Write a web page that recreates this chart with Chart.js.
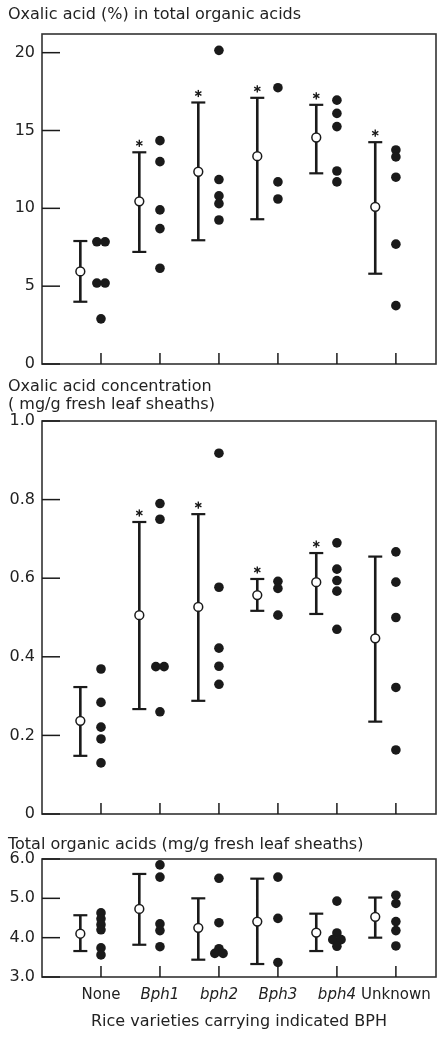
<!DOCTYPE html>
<html>
<head>
<meta charset="utf-8">
<script src="https://cdn.jsdelivr.net/npm/chart.js@4.4.1/dist/chart.umd.min.js"></script>
<style>
  body { margin: 0; background: #fff; }
  #page { position: relative; width: 437px; height: 1038px; overflow: hidden; font-family: 'DejaVu Sans', sans-serif; color: #222; }
  .box { position: absolute; left: 0; width: 437px; }
  .ttl { position: absolute; left: 8px; font-size: 16px; line-height: 18px; white-space: nowrap; z-index: 2; }
</style>
</head>
<body>
<div id="page">
  <div class="box" style="top:0;height:375px"><canvas id="c1"></canvas></div>
  <div class="box" style="top:375px;height:450px"><canvas id="c2"></canvas></div>
  <div class="box" style="top:825px;height:213px"><canvas id="c3"></canvas></div>
  <div class="ttl" style="top:5px">Oxalic acid (%) in total organic acids</div>
  <div class="ttl" style="top:377px">Oxalic acid concentration<br>( mg/g fresh leaf sheaths)</div>
  <div class="ttl" style="top:835px">Total organic acids (mg/g fresh leaf sheaths)</div>
</div>
<script>
// categories
const categories = ['None', 'Bph1', 'bph2', 'Bph3', 'bph4', 'Unknown'];
const italicCats = [false, true, true, true, true, false];
const xTitle = 'Rice varieties carrying indicated BPH';

// oxalic acid (%) in total organic acids
const oxPctMean = [5.95, 10.45, 12.35, 13.35, 14.55, 10.1];
const oxPctHigh = [7.9, 13.6, 16.8, 17.1, 16.65, 14.25];
const oxPctLow = [4.0, 7.2, 7.95, 9.3, 12.25, 5.8];
const oxPctSig = [false, true, true, true, true, true];
const oxPctPoints = [
  [7.85, 7.85, 5.2, 5.2, 2.9],
  [14.35, 13.0, 9.9, 8.7, 6.15],
  [20.15, 11.85, 10.8, 10.3, 9.25],
  [17.75, 11.7, 10.6],
  [16.95, 16.1, 15.25, 12.4, 11.7],
  [13.75, 13.3, 12.0, 7.7, 3.75]
];

// oxalic acid concentration (mg/g)
const oxConcMean = [0.237, 0.506, 0.527, 0.557, 0.59, 0.447];
const oxConcHigh = [0.323, 0.743, 0.763, 0.598, 0.664, 0.655];
const oxConcLow = [0.148, 0.267, 0.288, 0.517, 0.509, 0.235];
const oxConcSig = [false, true, true, true, true, false];
const oxConcPoints = [
  [0.369, 0.284, 0.221, 0.191, 0.13],
  [0.79, 0.75, 0.375, 0.375, 0.26],
  [0.918, 0.577, 0.422, 0.376, 0.33],
  [0.592, 0.574, 0.506],
  [0.69, 0.623, 0.594, 0.567, 0.47],
  [0.667, 0.59, 0.5, 0.322, 0.163]
];

// total organic acids (mg/g)
const totalMean = [4.1, 4.73, 4.25, 4.41, 4.13, 4.53];
const totalHigh = [4.57, 5.62, 5.0, 5.5, 4.61, 5.02];
const totalLow = [3.66, 3.82, 3.44, 3.33, 3.66, 4.0];
const totalSig = [false, false, false, false, false, false];
const totalPoints = [
  [4.63, 4.48, 4.33, 4.2, 3.74, 3.56],
  [5.85, 5.54, 4.35, 4.18, 3.77],
  [5.51, 4.38, 3.72, 3.6, 3.6],
  [5.54, 4.49, 3.37],
  [4.93, 4.12, 3.95, 3.95, 3.78],
  [5.08, 4.87, 4.41, 4.18, 3.79]
];

const INK = '#1a1a1a';
const MEAN_SHIFT = 0.35;  // mean +- SD drawn left of the dots
const FAMILY = "'DejaVu Sans', sans-serif";

function buildChart(id, p) {
  const dots = [], means = [], bars = [], caps = [];
  p.points.forEach((vals, i) => {
    const counts = {}, seen = {};
    vals.forEach(v => { counts[v] = (counts[v] || 0) + 1; });
    vals.forEach(v => {
      const k = seen[v] || 0;
      seen[v] = k + 1;
      dots.push({ x: i + 1 + (k - (counts[v] - 1) / 2) * 0.14, y: v });
    });
    const mx = i + 1 - MEAN_SHIFT;
    means.push({ x: mx, y: p.mean[i] });
    bars.push({ x: mx, y: p.low[i] }, { x: mx, y: p.high[i] }, { x: mx, y: null });
    caps.push({ x: mx, y: p.low[i] }, { x: mx, y: p.high[i] });
  });

  // box round the plot and inward tick marks
  const framePlugin = {
    id: 'frame',
    beforeDatasetsDraw(chart) {
      const { ctx, chartArea: a, scales } = chart;
      ctx.save();
      ctx.strokeStyle = '#333';
      ctx.lineWidth = 1.6;
      ctx.strokeRect(a.left, a.top, a.right - a.left, a.bottom - a.top);
      ctx.strokeStyle = INK;
      ctx.lineWidth = 1.5;
      scales.y.ticks.forEach(t => {
        const y = scales.y.getPixelForValue(t.value);
        ctx.beginPath(); ctx.moveTo(a.left, y); ctx.lineTo(a.left + 18, y); ctx.stroke();
      });
      scales.x.ticks.forEach(t => {
        if (t.value < 1) return;
        const x = scales.x.getPixelForValue(t.value);
        ctx.beginPath(); ctx.moveTo(x, a.bottom); ctx.lineTo(x, a.bottom - 11); ctx.stroke();
      });
      ctx.restore();
    }
  };

  const starPlugin = {
    id: 'stars',
    afterDatasetsDraw(chart) {
      const { ctx, scales } = chart;
      ctx.save();
      ctx.strokeStyle = INK;
      ctx.lineWidth = 1.4;
      p.sig.forEach((s, i) => {
        if (!s) return;
        const x = scales.x.getPixelForValue(i + 1 - MEAN_SHIFT);
        const y = scales.y.getPixelForValue(p.high[i]) - 9;
        for (let k = 0; k < 3; k++) {
          const ang = Math.PI / 2 + k * Math.PI / 3;
          ctx.beginPath();
          ctx.moveTo(x - 3.6 * Math.cos(ang), y - 3.6 * Math.sin(ang));
          ctx.lineTo(x + 3.6 * Math.cos(ang), y + 3.6 * Math.sin(ang));
          ctx.stroke();
        }
      });
      ctx.restore();
    }
  };

  new Chart(document.getElementById(id), {
    type: 'scatter',
    data: {
      datasets: [
        {
          label: 'mean',
          data: means,
          order: 0,
          pointRadius: 4.4,
          pointBackgroundColor: '#fff',
          pointBorderColor: INK,
          pointBorderWidth: 1.5,
          clip: false
        },
        {
          label: 'values',
          data: dots,
          order: 1,
          pointRadius: 4.8,
          pointBackgroundColor: INK,
          pointBorderColor: INK,
          pointBorderWidth: 0,
          clip: false
        },
        {
          label: 'sd',
          data: bars,
          order: 2,
          showLine: true,
          spanGaps: false,
          borderColor: INK,
          borderWidth: 2.6,
          pointRadius: 0,
          clip: false
        },
        {
          label: 'caps',
          data: caps,
          order: 3,
          pointStyle: 'line',
          pointRadius: 7,
          pointBorderColor: INK,
          pointBorderWidth: 2.2,
          clip: false
        }
      ]
    },
    options: {
      responsive: true,
      maintainAspectRatio: false,
      animation: false,
      layout: { autoPadding: false, padding: { top: p.padTop, right: 1, left: 0, bottom: 0 } },
      plugins: { legend: { display: false }, tooltip: { enabled: false } },
      scales: {
        x: {
          type: 'linear',
          min: 0,
          max: 6.68,
          afterFit: s => { s.height = p.xHeight; s.paddingLeft = 0; s.paddingRight = 0; },
          border: { display: false },
          grid: { display: true, drawOnChartArea: false, drawTicks: false, color: 'rgba(0,0,0,0)' },
          ticks: {
            stepSize: 1,
            includeBounds: false,
            autoSkip: false,
            maxRotation: 0,
            minRotation: 0,
            padding: 9,
            color: '#222',
            font: c => ({ family: FAMILY, size: 15, style: italicCats[c.index - 1] ? 'italic' : 'normal' }),
            callback: v => (p.labels && v >= 1 && v <= 6) ? categories[v - 1] : ''
          },
          title: {
            display: !!p.labels,
            text: xTitle,
            color: '#222',
            font: { family: FAMILY, size: 16 },
            padding: { top: 0, bottom: 7 }
          }
        },
        y: {
          min: p.yMin,
          max: p.yMax,
          afterFit: s => { s.width = 42; s.paddingTop = 0; s.paddingBottom = 0; },
          border: { display: false },
          grid: { display: true, drawOnChartArea: false, drawTicks: false, color: 'rgba(0,0,0,0)' },
          ticks: {
            stepSize: p.step,
            includeBounds: false,
            padding: 7,
            color: '#222',
            font: { family: FAMILY, size: 16 },
            callback: p.fmt
          }
        }
      }
    },
    plugins: [framePlugin, starPlugin]
  });
}

buildChart('c1', {
  points: oxPctPoints, mean: oxPctMean, low: oxPctLow, high: oxPctHigh, sig: oxPctSig,
  yMin: 0, yMax: 21.2, step: 5, fmt: v => String(v),
  padTop: 34, xHeight: 11, labels: false
});
buildChart('c2', {
  points: oxConcPoints, mean: oxConcMean, low: oxConcLow, high: oxConcHigh, sig: oxConcSig,
  yMin: 0, yMax: 1.0, step: 0.2, fmt: v => v === 0 ? '0' : v.toFixed(1),
  padTop: 46, xHeight: 11, labels: false
});
buildChart('c3', {
  points: totalPoints, mean: totalMean, low: totalLow, high: totalHigh, sig: totalSig,
  yMin: 3, yMax: 6, step: 1, fmt: v => v.toFixed(1),
  padTop: 34, xHeight: 61, labels: true
});
</script>
</body>
</html>
